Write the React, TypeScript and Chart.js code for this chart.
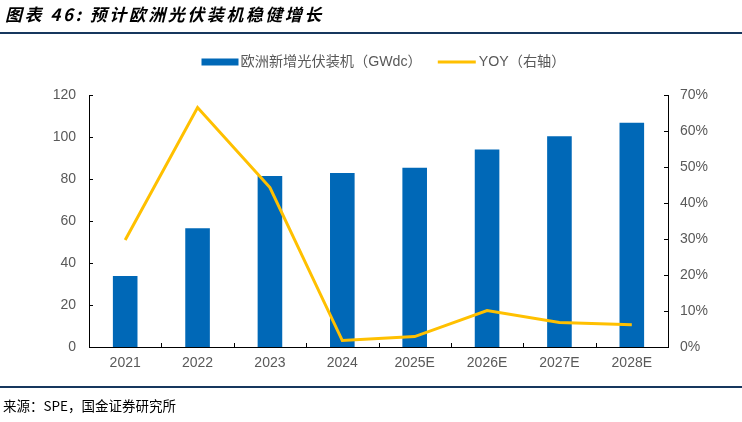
import React, { useEffect, useRef } from 'react';
import { Chart, registerables } from 'chart.js';

Chart.register(...registerables);

const categories = ['2021', '2022', '2023', '2024', '2025E', '2026E', '2027E', '2028E'];
const installs = [33.8, 56.5, 81.4, 82.8, 85.3, 94.0, 100.4, 106.8];
const yoy = [29.7, 66.5, 44.3, 1.8, 2.9, 10.1, 6.8, 6.2];
const barLabel = '欧洲新增光伏装机（GWdc）';
const lineLabel = 'YOY（右轴）';

const BAR = '#0068B7';
const LINE = '#FFC000';
const TEXT = '#595959';
const FONT = '"Liberation Sans", Arial, "Noto Sans CJK SC", sans-serif';

export default function App() {
  const ref = useRef<HTMLCanvasElement>(null);

  useEffect(() => {
    if (!ref.current) return;

    const inwardTicks = {
      id: 'inwardTicks',
      afterDatasetsDraw(chart: any) {
        const { ctx, chartArea: a, scales } = chart;
        ctx.save();
        ctx.strokeStyle = '#000';
        ctx.lineWidth = 1;
        ctx.beginPath();
        scales.y.ticks.forEach((t: any) => {
          const py = Math.round(scales.y.getPixelForValue(t.value)) + 0.5;
          ctx.moveTo(a.left, py);
          ctx.lineTo(a.left + 4, py);
        });
        scales.y1.ticks.forEach((t: any) => {
          const py = Math.round(scales.y1.getPixelForValue(t.value)) + 0.5;
          ctx.moveTo(a.right, py);
          ctx.lineTo(a.right - 4, py);
        });
        const x = scales.x;
        const step = x.getPixelForValue(1) - x.getPixelForValue(0);
        for (let i = 1; i < categories.length; i++) {
          const px = Math.round(x.getPixelForValue(i) - step / 2) + 0.5;
          ctx.moveTo(px, a.bottom);
          ctx.lineTo(px, a.bottom - 4);
        }
        ctx.stroke();
        ctx.restore();
      },
    };

    const customLegend = {
      id: 'customLegend',
      afterDraw(chart: any) {
        const { ctx, chartArea: a } = chart;
        ctx.save();
        ctx.font = `14.2px ${FONT}`;
        const w1 = ctx.measureText(barLabel).width;
        const w2 = ctx.measureText(lineLabel).width;
        const boxW = 37, gap1 = 2, itemGap = 16, lineW = 38, gap2 = 3;
        const total = boxW + gap1 + w1 + itemGap + lineW + gap2 + w2;
        let x = (a.left + a.right) / 2 - total / 2 + 5;
        const cy = 62;
        ctx.fillStyle = BAR;
        ctx.fillRect(x, cy - 3.5, boxW, 7);
        x += boxW + gap1;
        ctx.fillStyle = TEXT;
        ctx.textBaseline = 'middle';
        ctx.textAlign = 'left';
        ctx.fillText(barLabel, x, cy);
        x += w1 + itemGap;
        ctx.strokeStyle = LINE;
        ctx.lineWidth = 3;
        ctx.beginPath();
        ctx.moveTo(x, cy);
        ctx.lineTo(x + lineW, cy);
        ctx.stroke();
        x += lineW + gap2;
        ctx.fillText(lineLabel, x, cy);
        ctx.restore();
      },
    };

    const chart = new Chart(ref.current, {
      data: {
        labels: categories,
        datasets: [
          {
            type: 'line',
            label: lineLabel,
            data: yoy,
            yAxisID: 'y1',
            borderColor: LINE,
            backgroundColor: LINE,
            borderWidth: 3,
            pointRadius: 0,
            tension: 0,
            order: 0,
          },
          {
            type: 'bar',
            label: barLabel,
            data: installs,
            yAxisID: 'y',
            backgroundColor: BAR,
            categoryPercentage: 1,
            barPercentage: 0.34,
            order: 1,
          },
        ],
      } as any,
      options: {
        responsive: false,
        animation: false,
        layout: { padding: { top: 95, bottom: 45, left: 0, right: 0 } },
        plugins: {
          legend: { display: false },
          tooltip: { enabled: false },
          title: { display: false },
        },
        scales: {
          x: {
            offset: true,
            grid: { display: false, drawTicks: false },
            border: { display: true, color: '#000', width: 1 },
            ticks: { color: TEXT, font: { size: 14, family: FONT }, padding: 8, maxRotation: 0 },
            afterFit: (s: any) => { s.height = 30; },
          },
          y: {
            position: 'left',
            min: 0,
            max: 120,
            grid: { display: false, drawTicks: false },
            border: { display: true, color: '#000', width: 1 },
            ticks: { stepSize: 20, color: TEXT, font: { size: 14, family: FONT }, padding: 13 },
            afterFit: (s: any) => { s.width = 89; },
          },
          y1: {
            position: 'right',
            min: 0,
            max: 70,
            grid: { display: false, drawTicks: false },
            border: { display: true, color: '#000', width: 1 },
            ticks: {
              stepSize: 10,
              color: TEXT,
              font: { size: 14, family: FONT },
              padding: 12,
              callback: (v: any) => `${v}%`,
            },
            afterFit: (s: any) => { s.width = 74; },
          },
        },
      } as any,
      plugins: [inwardTicks, customLegend],
    });

    return () => chart.destroy();
  }, []);

  return (
    <div style={{ position: 'absolute', left: 0, top: 0, width: 742, height: 422, background: '#fff', overflow: 'hidden' }}>
      <canvas ref={ref} width={742} height={422} style={{ position: 'absolute', left: 0, top: 0, width: 742, height: 422 }} />
      <div
        style={{
          position: 'absolute',
          left: 5,
          top: 4,
          fontFamily: '"Noto Sans CJK SC", "Liberation Sans", sans-serif',
          fontSize: 17,
          lineHeight: '20px',
          fontWeight: 'bold',
          fontStyle: 'italic',
          letterSpacing: 2.5,
          color: '#000',
          whiteSpace: 'nowrap',
        }}
      >
        图表 46: 预计欧洲光伏装机稳健增长
      </div>
      <div style={{ position: 'absolute', left: 0, top: 32, width: 742, height: 2, background: '#17375E' }} />
      <div style={{ position: 'absolute', left: 0, top: 386, width: 742, height: 2, background: '#17375E' }} />
      <div
        style={{
          position: 'absolute',
          left: 3,
          top: 396,
          fontFamily: '"Noto Sans CJK SC", "Liberation Sans", sans-serif',
          fontSize: 13.5,
          lineHeight: '18px',
          color: '#000',
          whiteSpace: 'nowrap',
        }}
      >
        来源：SPE，国金证券研究所
      </div>
    </div>
  );
}
